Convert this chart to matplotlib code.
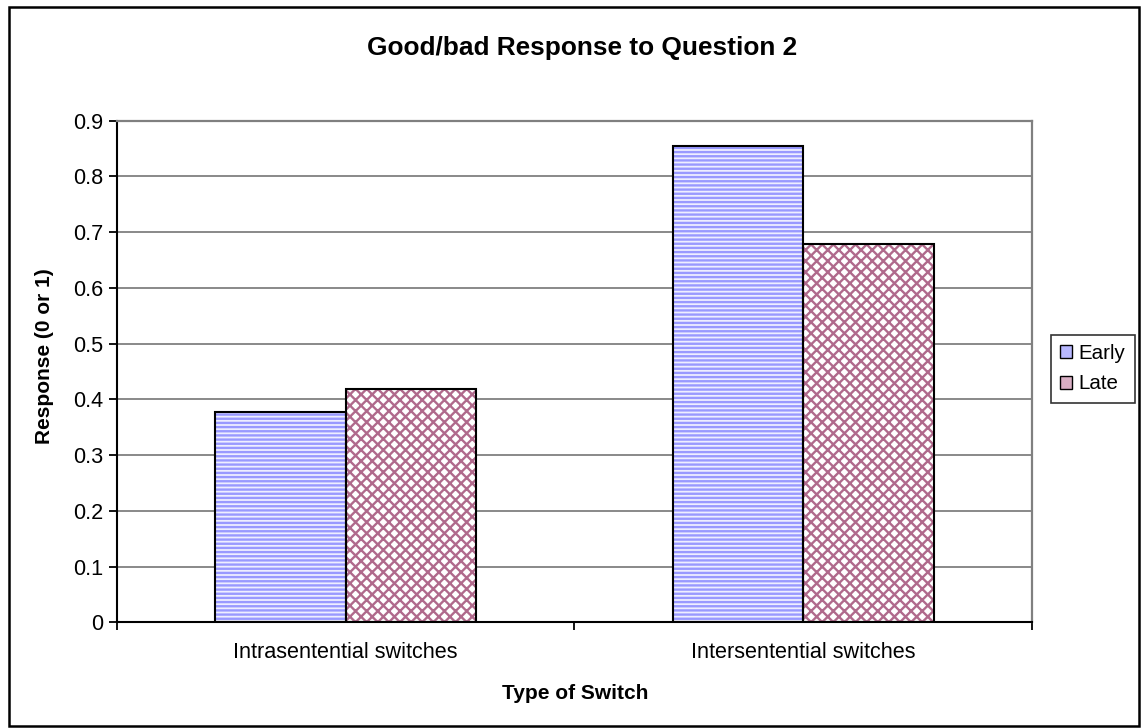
import numpy as np
import matplotlib
matplotlib.use("Agg")
import matplotlib.pyplot as plt
from matplotlib.patches import Rectangle, Patch

plt.rcParams['font.family'] = ['Liberation Sans', 'DejaVu Sans']
plt.rcParams['hatch.linewidth'] = 1.7

# data
categories = ["Intrasentential switches", "Intersentential switches"]
series_names = ["Early", "Late"]
early = [0.377, 0.855]
late = [0.419, 0.678]
y_ticks = [0, 0.1, 0.2, 0.3, 0.4, 0.5, 0.6, 0.7, 0.8, 0.9]

# look of each series: face, hatch colour, hatch, legend swatch colour
styles = {
    "Early": ("#EEEEFF", "#9999FF", "----", "#B8B8FF"),
    "Late": ("#FFFFFF", "#B06A8C", "xxx", "#D9AFC4"),
}

fig = plt.figure(figsize=(11.41, 7.28), dpi=100)
ax = fig.add_axes([0.1025, 0.1452, 0.802, 0.689])

x = np.arange(len(categories))
w = 1 / 3.5  # gap width 150%

for offset, name, vals in [(-w / 2, "Early", early), (w / 2, "Late", late)]:
    face, hcol, hatch, _ = styles[name]
    # hatch layer, then outline on top
    ax.bar(x + offset, vals, w, color=face, edgecolor=hcol, hatch=hatch, linewidth=0, zorder=2)
    ax.bar(x + offset, vals, w, fill=False, edgecolor="black", linewidth=1.5, zorder=3)

ax.set_xlim(-0.5, len(categories) - 0.5)
ax.set_ylim(0, 0.9)
ax.set_yticks(y_ticks)
ax.set_yticklabels([f"{t:g}" for t in y_ticks])
ax.yaxis.grid(True, color="#808080", linewidth=1.3, zorder=0)
ax.set_axisbelow(True)

# category labels between boundary tick marks
ax.set_xticks(x)
ax.set_xticklabels(categories)
ax.tick_params(axis="x", length=0, labelsize=15.6, pad=14)
ax.set_xticks(np.arange(-0.5, len(categories)), minor=True)
ax.tick_params(axis="x", which="minor", length=6, width=1.3, direction="out")
ax.tick_params(axis="y", length=6, width=1.3, direction="out", labelsize=15.6, pad=4)

for side in ["top", "right"]:
    ax.spines[side].set_color("#808080")
    ax.spines[side].set_linewidth(1.6)
for side in ["left", "bottom"]:
    ax.spines[side].set_color("black")
    ax.spines[side].set_linewidth(1.5)

fig.text(0.51, 0.934, "Good/bad Response to Question 2", ha="center", va="center",
         fontsize=18.9, fontweight="bold")
fig.text(0.504, 0.047, "Type of Switch", ha="center", va="center",
         fontsize=15, fontweight="bold")
fig.text(0.039, 0.511, "Response (0 or 1)", ha="center", va="center", rotation=90,
         fontsize=15, fontweight="bold")

handles = [Patch(facecolor=styles[n][3], edgecolor="black", linewidth=1.0) for n in series_names]
leg = fig.legend(handles, series_names, loc="upper left", bbox_to_anchor=(0.921, 0.540),
                 fontsize=14.8, handlelength=0.6, handleheight=0.6, handletextpad=0.3,
                 borderpad=0.45, labelspacing=0.55, fancybox=False, frameon=True, borderaxespad=0)
leg.get_frame().set_edgecolor("black")
leg.get_frame().set_linewidth(1.2)

# chart border
fig.patches.append(Rectangle((0.0075, 0.003), 0.9905, 0.987, transform=fig.transFigure,
                             fill=False, edgecolor="black", linewidth=1.8))

fig.savefig("out.png", dpi=100)
